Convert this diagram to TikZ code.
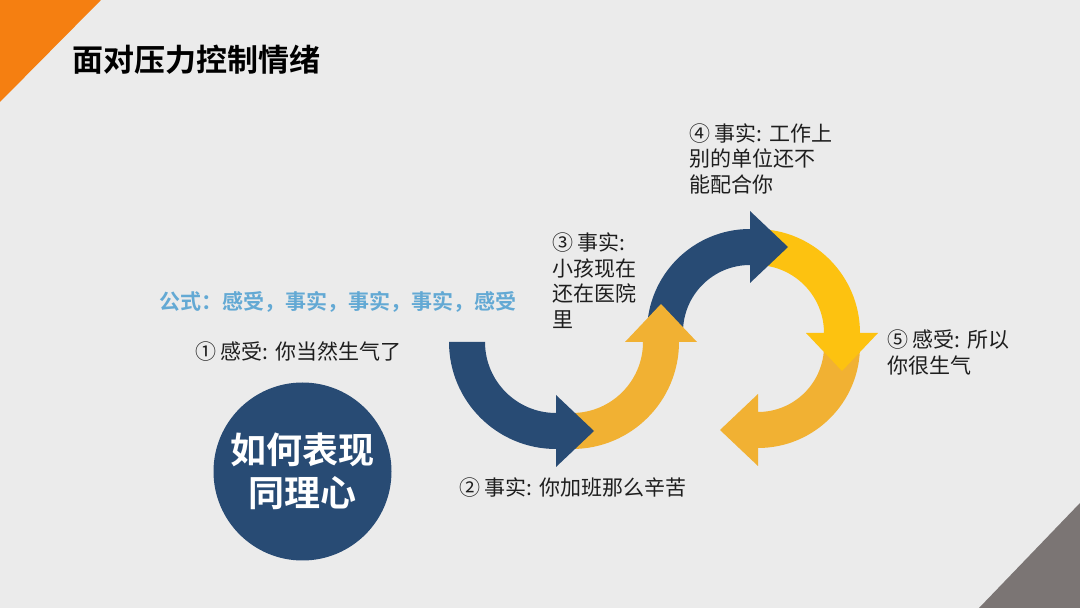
\documentclass[tikz,border=0pt]{standalone}
\usepackage{fontspec}
\setmainfont{Noto Sans CJK SC}
\newfontfamily\cjkbold{Noto Sans CJK SC Bold}
\usetikzlibrary{calc}
\definecolor{bgc}{HTML}{EBEBEB}
\definecolor{orangec}{HTML}{F57F11}
\definecolor{grayc}{HTML}{7B7574}
\definecolor{navy}{HTML}{284B74}
\definecolor{amber}{HTML}{F1B133}
\definecolor{gold}{HTML}{FDC210}
\definecolor{formula}{HTML}{63A9D4}
\definecolor{txt}{HTML}{1E1E1E}
\newcommand\ArcArrow[6]{%
  \fill[#1] ($(#2)+(#4:#3+18)$) arc[start angle=#4, end angle=#5, radius=#3+18]
    -- ($(#2)+(#5:#3+36)$) -- ($(#2)+(#5:#3)+(#6:38)$) -- ($(#2)+(#5:#3-36)$)
    -- ($(#2)+(#5:#3-18)$) arc[start angle=#5, end angle=#4, radius=#3-18] -- cycle;}
\tikzset{
  label/.style={anchor=west, align=left, inner sep=0pt, text=txt,
    font=\fontsize{21}{25.5}\selectfont},
}
\begin{document}
\begin{tikzpicture}[x=1pt,y=1pt]
\fill[bgc] (0,0) rectangle (1080,608);
\useasboundingbox (0,0) rectangle (1080,608);
\fill[orangec] (0,608) -- (101,608) -- (0,506) -- cycle;
\fill[grayc] (1080,105) -- (1080,0) -- (979,0) -- cycle;
\node[anchor=west, inner sep=0pt, font=\cjkbold\fontsize{31}{36}\selectfont] (title) at (72,548) {面对压力控制情绪};
\node[anchor=west, inner sep=0pt, text=formula, font=\cjkbold\fontsize{21}{25}\selectfont] (formula) at (159,306) {公式：感受，事实，事实，事实，感受};
\node[label] (l1) at (195,256) {① 感受: 你当然生气了};
\node[label] (l2) at (459,120) {② 事实: 你加班那么辛苦};
\node[label] (l3) at (552,327.5) {③ 事实:\\小孩现在\\还在医院\\里};
\node[label] (l4) at (689,449.5) {④ 事实: 工作上\\别的单位还不\\能配合你};
\node[label] (l5) at (887,255.5) {⑤ 感受: 所以\\你很生气};
\node[circle, fill=navy, minimum size=178pt, inner sep=0pt, text=white, align=center,
  font=\cjkbold\fontsize{36}{43}\selectfont] (empathy) at (302.5,136.5) {如何表现\\同理心};
\coordinate (c1) at (556,266);
\coordinate (c2) at (572,266);
\coordinate (c3) at (750,276);
\coordinate (c4) at (756,275);
\coordinate (c5) at (758,262);
\ArcArrow{amber}{c5}{84}{0}{-90}{180}
\ArcArrow{gold}{c4}{86}{90}{0}{-90}
\ArcArrow{navy}{c3}{85}{180}{90}{0}
\ArcArrow{amber}{c2}{89}{270}{360}{90}
\ArcArrow{navy}{c1}{89}{180}{270}{0}
\end{tikzpicture}
\end{document}
